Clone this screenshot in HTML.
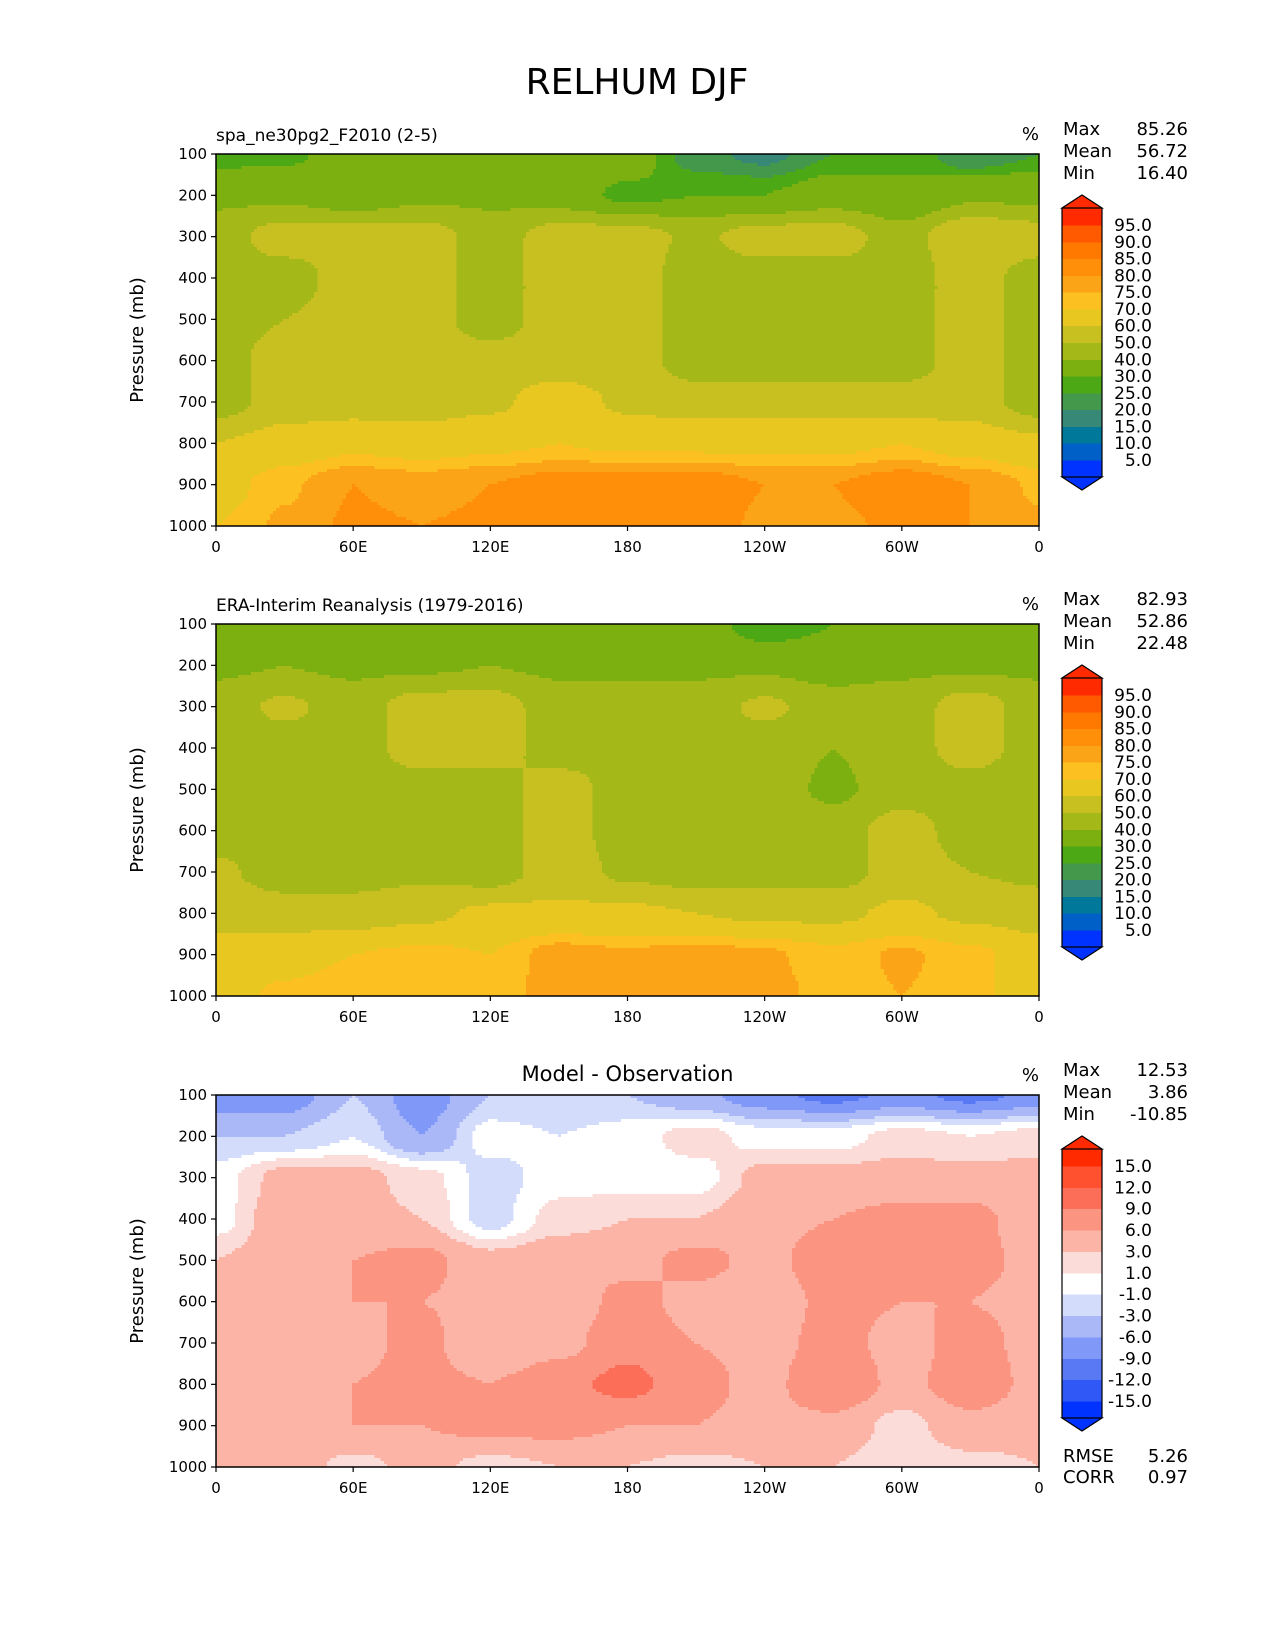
<!DOCTYPE html>
<html><head><meta charset="utf-8">
<style>
html,body{margin:0;padding:0;background:#fff;}
svg{display:block;font-family:"DejaVu Sans","Liberation Sans",sans-serif;}
</style></head>
<body>
<svg id="fig" width="1275" height="1650" viewBox="0 0 1275 1650" xmlns="http://www.w3.org/2000/svg">
<text x="637" y="94" font-size="36" text-anchor="middle">RELHUM DJF</text>
</svg>
<script>
// ---- data ----
const lons = [0,30,60,90,120,150,180,210,240,270,300,330,360];
const levels = [100,200,300,400,500,600,700,800,900,1000];
const xTickLabels = ["0","60E","120E","180","120W","60W","0"];
const xTickLons = [0,60,120,180,240,300,360];
const yTickLabels = ["100","200","300","400","500","600","700","800","900","1000"];
const modelGrid = [
 [27,28,35,32,38,38,35,22,18,25,30,20,25],
 [38,38,33,38,38,35,28,30,30,35,30,38,38],
 [45,55,55,55,45,55,55,48,55,55,45,60,55],
 [45,45,55,55,45,55,55,45,45,45,45,55,45],
 [45,50,55,55,45,55,55,45,45,45,45,55,45],
 [45,55,55,55,55,55,55,45,45,45,45,55,45],
 [45,55,55,55,58,65,58,55,55,55,55,55,45],
 [60,64,68,66,68,70,68,68,68,68,70,66,62],
 [66,74,80,78,80,83,84,84,80,80,84,80,74],
 [70,76,81,80,81,83,83,83,79,79,81,80,76]];
const obsGrid = [
 [40,40,38,38,40,38,38,35,25,30,35,30,30],
 [38,40,38,38,40,38,38,38,38,35,38,38,38],
 [45,52,45,55,55,45,45,45,52,45,45,55,45],
 [45,45,45,55,55,45,45,45,45,40,45,55,45],
 [45,45,45,45,45,55,45,45,45,38,45,45,40],
 [45,45,45,45,45,55,45,45,45,45,55,45,45],
 [52,45,45,48,45,55,48,45,45,45,55,50,48],
 [58,55,55,58,62,62,62,60,58,58,62,58,55],
 [62,66,70,72,70,78,76,78,76,72,76,72,65],
 [65,72,75,75,72,78,78,80,78,72,75,72,65]];
const diffGrid = [
 [-8,-8,-3,-8,-3,-3,-3,-5,-8,-10,-8,-10,-8],
 [-3,-3,-1,-6,0,-1,0,2,0,0,2,1,2],
 [0,4,4,2,-2,0,0,0,4,4,4,4,4],
 [0,5,4,3,-2,2,3,3,5,6,7,7,4],
 [3,5,6,7,4,5,5,7,5,8,7,7,5],
 [4,6,6,6,5,4,7,5,4,7,6,6,5],
 [4,5,5,7,3,5,8,6,5,7,5,7,5],
 [4,5,6,7,6,8,10,7,5,9,5,8,5],
 [3,6,6,6,7,7,6,6,5,5,2,5,4],
 [4,5,2,4,2,3,3,2,3,3,1,2,3]];
const rhLevels = [5,10,15,20,25,30,40,50,60,70,75,80,85,90,95];
const rhLabels = ["5.0","10.0","15.0","20.0","25.0","30.0","40.0","50.0","60.0","70.0","75.0","80.0","85.0","90.0","95.0"];
const rhColors = ["#0033ff","#0060c8","#00789a","#388878","#44984c","#4ca814","#7cb010","#a4b818","#c8c020","#e8c820","#fcc020","#fca418","#ff8e08","#ff7800","#ff5a00","#ff2a00"];
const dLevels = [-15,-12,-9,-6,-3,-1,1,3,6,9,12,15];
const dLabels = ["-15.0","-12.0","-9.0","-6.0","-3.0","-1.0","1.0","3.0","6.0","9.0","12.0","15.0"];
const dColors = ["#0033ff","#3058f6","#5878f4","#8098f8","#aab8f8","#d4dcfc","#ffffff","#fcdcd8","#fcb4a6","#fc9482","#fc6e58","#ff5030","#ff2a00"];
const stats1 = [["Max","85.26"],["Mean","56.72"],["Min","16.40"]];
const stats2 = [["Max","82.93"],["Mean","52.86"],["Min","22.48"]];
const stats3 = [["Max","12.53"],["Mean","3.86"],["Min","-10.85"]];
const metrics = [["RMSE","5.26"],["CORR","0.97"]];

// ---- drawing ----
const NS="http://www.w3.org/2000/svg";
const fig=document.getElementById('fig');
const X0=216,W=823,H=372;
function mk(tag,attrs,parent){const e=document.createElementNS(NS,tag);for(const k in attrs)e.setAttribute(k,attrs[k]);(parent||fig).appendChild(e);return e;}
function txt(x,y,s,size,anchor,parent){const t=mk('text',{x:x,y:y,'font-size':size,'text-anchor':anchor||'start'},parent);t.textContent=s;return t;}
function colorFor(v,lv,cols){let i=0;while(i<lv.length&&v>=lv[i])i++;return cols[i];}
function sample(grid,lon,p){
  let fi=lon/30, fj=(p-100)/100;
  let i=Math.min(Math.floor(fi),lons.length-2), j=Math.min(Math.floor(fj),levels.length-2);
  let tx=fi-i, ty=fj-j;
  tx=tx*tx*(3-2*tx); ty=ty*ty*(3-2*ty);
  const a=grid[j][i],b=grid[j][i+1],c=grid[j+1][i],d=grid[j+1][i+1];
  return (a*(1-tx)+b*tx)*(1-ty)+(c*(1-tx)+d*tx)*ty;
}
function panel(top,grid,lv,cols,labels,title,titleCentered,stats,name){
  const g=mk('g',{});
  
  
  const xs=l=>X0+l/360*W, ys=p=>top+(p-100)/900*H;
  const NX=260,NY=124;
  const cells=mk('g',{'shape-rendering':'crispEdges'},g);
  
  
  for(let r=0;r<NY;r++){
    const p=100+(r+0.5)/NY*900;
    let start=0,cur=null;
    for(let c=0;c<=NX;c++){
      let col=null;
      if(c<NX){const lon=(c+0.5)/NX*360;col=colorFor(sample(grid,lon,p),lv,cols);}
      if(col!==cur){
        if(cur!==null){
          const x1=xs(start/NX*360),x2=xs(c/NX*360),y1=ys(100+r/NY*900),y2=ys(100+(r+1)/NY*900);
          const rc=mk('rect',{x:x1,y:y1,width:x2-x1+0.6,height:y2-y1+0.6,fill:cur},cells);
          
          
        }
        start=c;cur=col;
      }
    }
  }
  const fr=mk('rect',{x:X0,y:top,width:W,height:H,fill:'none',stroke:'#000','stroke-width':1.5},g);
  
  
  levels.forEach((p,k)=>{
    mk('line',{x1:X0-5,x2:X0,y1:ys(p),y2:ys(p),stroke:'#000','stroke-width':1.2},g);
    const t=txt(X0-9,ys(p)+5,yTickLabels[k],15,'end',g);
    
    
  });
  xTickLons.forEach((l,k)=>{
    mk('line',{x1:xs(l),x2:xs(l),y1:top+H,y2:top+H+5,stroke:'#000','stroke-width':1.2},g);
    const t=txt(xs(l),top+H+26,xTickLabels[k],15,'middle',g);
    
    
  });
  const yl=txt(0,0,'Pressure (mb)',18,'middle',g);
  yl.setAttribute('transform','translate(143,'+(top+H/2)+') rotate(-90)');
  
  
  const tt=titleCentered?txt(X0+W/2,top-14,title,21,'middle',g):txt(X0,top-13,title,17,'start',g);
  
  
  const un=txt(1039,top-14,'%',18,'end',g);
  
  
  stats.forEach((s,k)=>{
    const a=txt(1063,top-19+k*22,s[0],18,'start',g);
    
    
    const b=txt(1188,top-19+k*22,s[1],18,'end',g);
    
    
  });
  const cb=mk('g',{},g);
  
  
  const cx1=1062,cx2=1102,apex=top+41,rt=top+54,rb=top+323,bapex=top+336;
  const b0=top+71,b1=top+306;
  const n=lv.length, step=(b1-b0)/(n-1);
  const by=k=>b1-k*step;
  for(let k=0;k<=n;k++){
    const yTop=k===n?rt:by(k), yBot=k===0?rb:by(k-1);
    const br=mk('rect',{x:cx1,y:yTop,width:cx2-cx1,height:yBot-yTop+0.5,fill:cols[k],'shape-rendering':'crispEdges'},cb);
    
    
  }
  mk('polygon',{points:`${cx1},${rt} ${(cx1+cx2)/2},${apex} ${cx2},${rt}`,fill:cols[n],stroke:'#000','stroke-width':1.2},cb);
  mk('polygon',{points:`${cx1},${rb} ${(cx1+cx2)/2},${bapex} ${cx2},${rb}`,fill:cols[0],stroke:'#000','stroke-width':1.2},cb);
  mk('line',{x1:cx1,y1:rt,x2:cx1,y2:rb,stroke:'#000','stroke-width':1.2},cb);
  mk('line',{x1:cx2,y1:rt,x2:cx2,y2:rb,stroke:'#000','stroke-width':1.2},cb);
  labels.forEach((s,k)=>{
    const t=txt(1152,by(k)+6,s,17,'end',cb);
    
    
  });
}
panel(154,modelGrid,rhLevels,rhColors,rhLabels,'spa_ne30pg2_F2010 (2-5)',false,stats1,'model');
panel(624,obsGrid,rhLevels,rhColors,rhLabels,'ERA-Interim Reanalysis (1979-2016)',false,stats2,'observation');
panel(1095,diffGrid,dLevels,dColors,dLabels,'Model - Observation',true,stats3,'difference');
metrics.forEach((m,k)=>{
  const a=txt(1063,1462+k*21,m[0],18,'start');
  
  
  const b=txt(1188,1462+k*21,m[1],18,'end');
  
  
});
</script>
</body></html>
